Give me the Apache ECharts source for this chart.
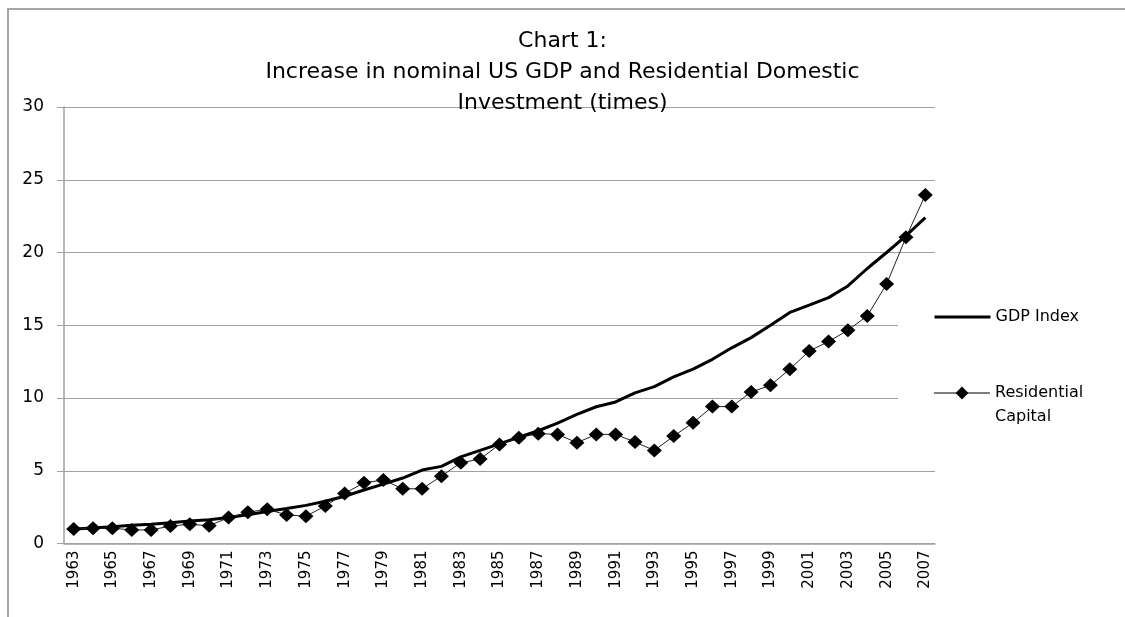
<!DOCTYPE html>
<html>
<head>
<meta charset="utf-8">
<script src="https://cdn.jsdelivr.net/npm/echarts@6/dist/echarts.min.js"></script>
<style>
  html, body { margin: 0; padding: 0; background: #fff; }
  #chart { width: 1125px; height: 617px; }
</style>
</head>
<body>
<div id="chart"></div>
<script>
// years on the x axis
const years = [];
for (let y = 1963; y <= 2007; y++) years.push(String(y));

// GDP index (1963 = 1)
const gdpIndex = [
  1.0, 1.07, 1.15, 1.26, 1.33, 1.43, 1.55, 1.64, 1.78, 1.98,
  2.2, 2.4, 2.62, 2.9, 3.25, 3.68, 4.08, 4.5, 5.05, 5.3,
  5.95, 6.4, 6.85, 7.3, 7.75, 8.28, 8.88, 9.4, 9.73, 10.35,
  10.78, 11.45, 11.98, 12.66, 13.45, 14.15, 15.0, 15.88, 16.38, 16.9,
  17.7, 18.9, 20.0, 21.15, 22.4
];

// residential capital (1963 = 1)
const residential = [
  1.0, 1.05, 1.05, 0.93, 0.93, 1.2, 1.32, 1.22, 1.78, 2.15,
  2.36, 1.96, 1.88, 2.57, 3.44, 4.18, 4.36, 3.76, 3.76, 4.63,
  5.55, 5.8, 6.81, 7.27, 7.55, 7.5, 6.93, 7.5, 7.5, 6.97,
  6.4, 7.38, 8.3, 9.41, 9.41, 10.41, 10.87, 11.98, 13.23, 13.88,
  14.66, 15.64, 17.83, 21.04, 23.95
];

const yTicks = [0, 5, 10, 15, 20, 25, 30];

const titleLines = [
  'Chart 1:',
  'Increase in nominal US GDP and Residential Domestic',
  'Investment (times)'
];

const chart = echarts.init(document.getElementById('chart'));

// one title per line so each one is centred
const titles = titleLines.map(function (t, i) {
  return {
    text: t,
    left: 'center',
    top: 26 + i * 31,
    padding: 0,
    textStyle: {
      fontFamily: 'DejaVu Sans',
      fontWeight: 'normal',
      fontSize: 22,
      lineHeight: 31,
      color: '#000'
    }
  };
});

chart.setOption({
  animation: false,
  backgroundColor: '#fff',
  title: titles,
  legend: [
    {
      data: [{ name: 'GDP Index', itemStyle: { opacity: 0 } }],
      left: 933,
      top: 309,
      padding: 0,
      orient: 'vertical',
      itemWidth: 56,
      itemHeight: 14,
      selectedMode: false,
      lineStyle: { color: '#000', width: 3, opacity: 1 },
      textStyle: { fontFamily: 'DejaVu Sans', fontSize: 16, color: '#000' }
    },
    {
      data: [{ name: 'Residential Capital' }],
      left: 933,
      top: 357,
      padding: 0,
      orient: 'vertical',
      itemWidth: 56,
      itemHeight: 16,
      selectedMode: false,
      // blank first line keeps "Residential" level with the icon
      formatter: function () { return ' \nResidential\nCapital'; },
      lineStyle: { color: '#7f7f7f', width: 2 },
      textStyle: {
        fontFamily: 'DejaVu Sans', fontSize: 16, color: '#000',
        lineHeight: 24
      }
    }
  ],
  grid: {
    left: 64,
    right: 190,
    top: 107,
    bottom: 73.5
  },
  xAxis: {
    type: 'category',
    data: years,
    boundaryGap: true,
    axisLine: { lineStyle: { color: '#a0a0a0', width: 1.5 } },
    axisTick: { interval: 0, length: 5, lineStyle: { color: '#a0a0a0' } },
    axisLabel: {
      interval: 1,
      rotate: 90,
      margin: 7,
      fontFamily: 'DejaVu Sans',
      fontSize: 15,
      color: '#000'
    },
    splitLine: { show: false }
  },
  yAxis: {
    type: 'value',
    min: yTicks[0],
    max: yTicks[yTicks.length - 1],
    interval: 5,
    axisLine: { show: true, lineStyle: { color: '#a0a0a0', width: 1.5 } },
    axisTick: { show: true, inside: false, length: 7, lineStyle: { color: '#a0a0a0' } },
    axisLabel: {
      margin: 20,
      fontFamily: 'DejaVu Sans',
      fontSize: 17,
      color: '#000'
    },
    splitLine: { show: true, lineStyle: { color: '#a0a0a0', width: 1.2 } }
  },
  graphic: [
    {
      type: 'rect',
      z: 1,
      shape: { x: 898, y: 290, width: 60, height: 168 },
      style: { fill: '#fff' },
      silent: true
    },
    {
      type: 'rect',
      z: 1,
      shape: { x: 8, y: 9, width: 1300, height: 800 },
      style: { fill: 'none', stroke: '#a6a6a6', lineWidth: 2 },
      silent: true
    }
  ],
  series: [
    {
      name: 'GDP Index',
      type: 'line',
      data: gdpIndex,
      symbol: 'none',
      z: 3,
      lineStyle: { color: '#000', width: 3 },
      itemStyle: { color: '#000' }
    },
    {
      name: 'Residential Capital',
      type: 'line',
      data: residential,
      symbol: 'diamond',
      symbolSize: [15, 14],
      showAllSymbol: true,
      z: 4,
      lineStyle: { color: '#222', width: 1 },
      itemStyle: { color: '#000' }
    }
  ]
});
</script>
</body>
</html>
